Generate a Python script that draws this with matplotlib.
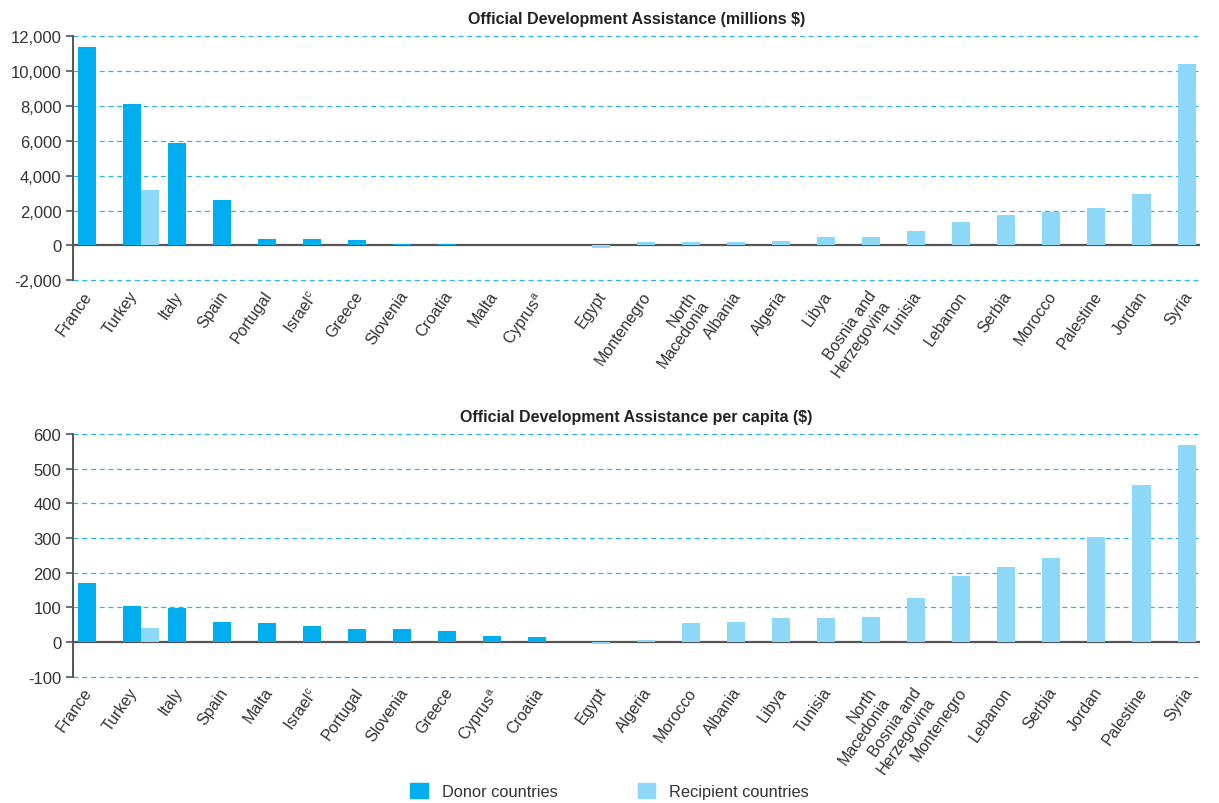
"""Official Development Assistance, donor vs recipient countries (two panels)."""

import matplotlib

matplotlib.use("Agg")
import matplotlib.pyplot as plt  # noqa: E402
import numpy as np  # noqa: E402
from matplotlib.patches import Patch  # noqa: E402

nan = np.nan

# --- data ----------------------------------------------------------------
total_countries = ["France", "Turkey", "Italy", "Spain", "Portugal", "Israel$^\\mathrm{c}$",
                   "Greece", "Slovenia", "Croatia", "Malta", "Cyprus$^\\mathrm{a}$", "Egypt",
                   "Montenegro", "North\nMacedonia", "Albania", "Algeria", "Libya",
                   "Bosnia and\nHerzegovina", "Tunisia", "Lebanon", "Serbia", "Morocco",
                   "Palestine", "Jordan", "Syria"]
total_donor = [11370, 8130, 5880, 2580, 390, 390, 330, 100, 100, 40, 40,
               nan, nan, nan, nan, nan, nan, nan, nan, nan, nan, nan, nan, nan, nan]
total_recipient = [nan, 3160, nan, nan, nan, nan, nan, nan, nan, nan, nan,
                   -170, 190, 190, 190, 250, 480, 480, 830, 1350, 1750, 1920, 2150, 2960, 10400]
total_ticks = [-2000, 0, 2000, 4000, 6000, 8000, 10000, 12000]

capita_countries = ["France", "Turkey", "Italy", "Spain", "Malta", "Israel$^\\mathrm{c}$",
                    "Portugal", "Slovenia", "Greece", "Cyprus$^\\mathrm{a}$", "Croatia", "Egypt",
                    "Algeria", "Morocco", "Albania", "Libya", "Tunisia", "North\nMacedonia",
                    "Bosnia and\nHerzegovina", "Montenegro", "Lebanon", "Serbia", "Jordan",
                    "Palestine", "Syria"]
capita_donor = [170, 104, 99, 58, 55, 46, 37, 37, 32, 17, 14,
                nan, nan, nan, nan, nan, nan, nan, nan, nan, nan, nan, nan, nan, nan]
capita_recipient = [nan, 40, nan, nan, nan, nan, nan, nan, nan, nan, nan,
                    -6, 5, 55, 58, 69, 69, 72, 127, 191, 217, 242, 303, 452, 568]
capita_ticks = [-100, 0, 100, 200, 300, 400, 500, 600]

DONOR = "#00AEEF"
RECIP = "#8DD8F7"
GRID = "#2BB5EA"
AXIS = "#555555"
TEXT = "#333333"

plt.rcParams["font.family"] = ["Liberation Sans", "DejaVu Sans"]
plt.rcParams["mathtext.fontset"] = "custom"
plt.rcParams["mathtext.rm"] = "Liberation Sans"


def draw_panel(ax, names, donor, recip, ticks, title):
    x = np.arange(len(names))
    donor = np.asarray(donor, dtype=float)
    ax.bar(x - 0.4, donor, width=0.4, align="edge", color=DONOR, zorder=2)
    ax.bar(x, recip, width=0.4, align="edge", color=RECIP, zorder=2)
    ax.set_xlim(-0.5, len(names) - 0.5)
    ax.set_ylim(ticks[0], ticks[-1])
    for t in ticks:
        if t == 0:
            # zero line under the bars so tiny values still show on top of it
            ax.axhline(0, color=AXIS, lw=1.6, zorder=1.5)
        else:
            ax.axhline(t, color=GRID, lw=0.9, ls=(0, (4, 3)), zorder=1, clip_on=False)
    ax.set_yticks(ticks)
    ax.set_yticklabels([f"{t:,}" for t in ticks])
    # hidden x ticks sit under the country's own bar (donor bar if it has one),
    # so each rotated label ends just below that bar, like the source
    tick_x = np.where(np.isnan(donor), x + 0.115, x - 0.285)
    ax.set_xticks(tick_x)
    ax.set_xticklabels(names, rotation=55, ha="right", va="top", rotation_mode="anchor",
                       fontsize=11.5, color=TEXT, linespacing=1.1)
    ax.tick_params(axis="x", length=0, pad=5.5)
    ax.tick_params(axis="y", colors=AXIS, labelcolor=TEXT, labelsize=12, length=5, width=1.2)
    for side in ("top", "right", "bottom"):
        ax.spines[side].set_visible(False)
    ax.spines["left"].set_color(AXIS)
    ax.spines["left"].set_linewidth(1.4)
    ax.set_title(title, fontsize=11.5, fontweight="bold", color="#222222", pad=9)


fig = plt.figure(figsize=(12.19, 8.04), dpi=100)
ax1 = fig.add_axes([0.060, 0.650, 0.9245, 0.304])
ax2 = fig.add_axes([0.060, 0.157, 0.9245, 0.302])

draw_panel(ax1, total_countries, total_donor, total_recipient, total_ticks,
           "Official Development Assistance (millions $)")
draw_panel(ax2, capita_countries, capita_donor, capita_recipient, capita_ticks,
           "Official Development Assistance per capita ($)")

handles = [Patch(color=DONOR, label="Donor countries"),
           Patch(color=RECIP, label="Recipient countries")]
leg = fig.legend(handles=handles, loc="center", bbox_to_anchor=(0.5, 0.015), ncol=2,
                 frameon=False, handlelength=1.05, handleheight=1.05, handletextpad=0.85,
                 columnspacing=4.9, fontsize=11.8)
for t in leg.get_texts():
    t.set_color(TEXT)

fig.savefig("out.png", dpi=100)
plt.close(fig)
